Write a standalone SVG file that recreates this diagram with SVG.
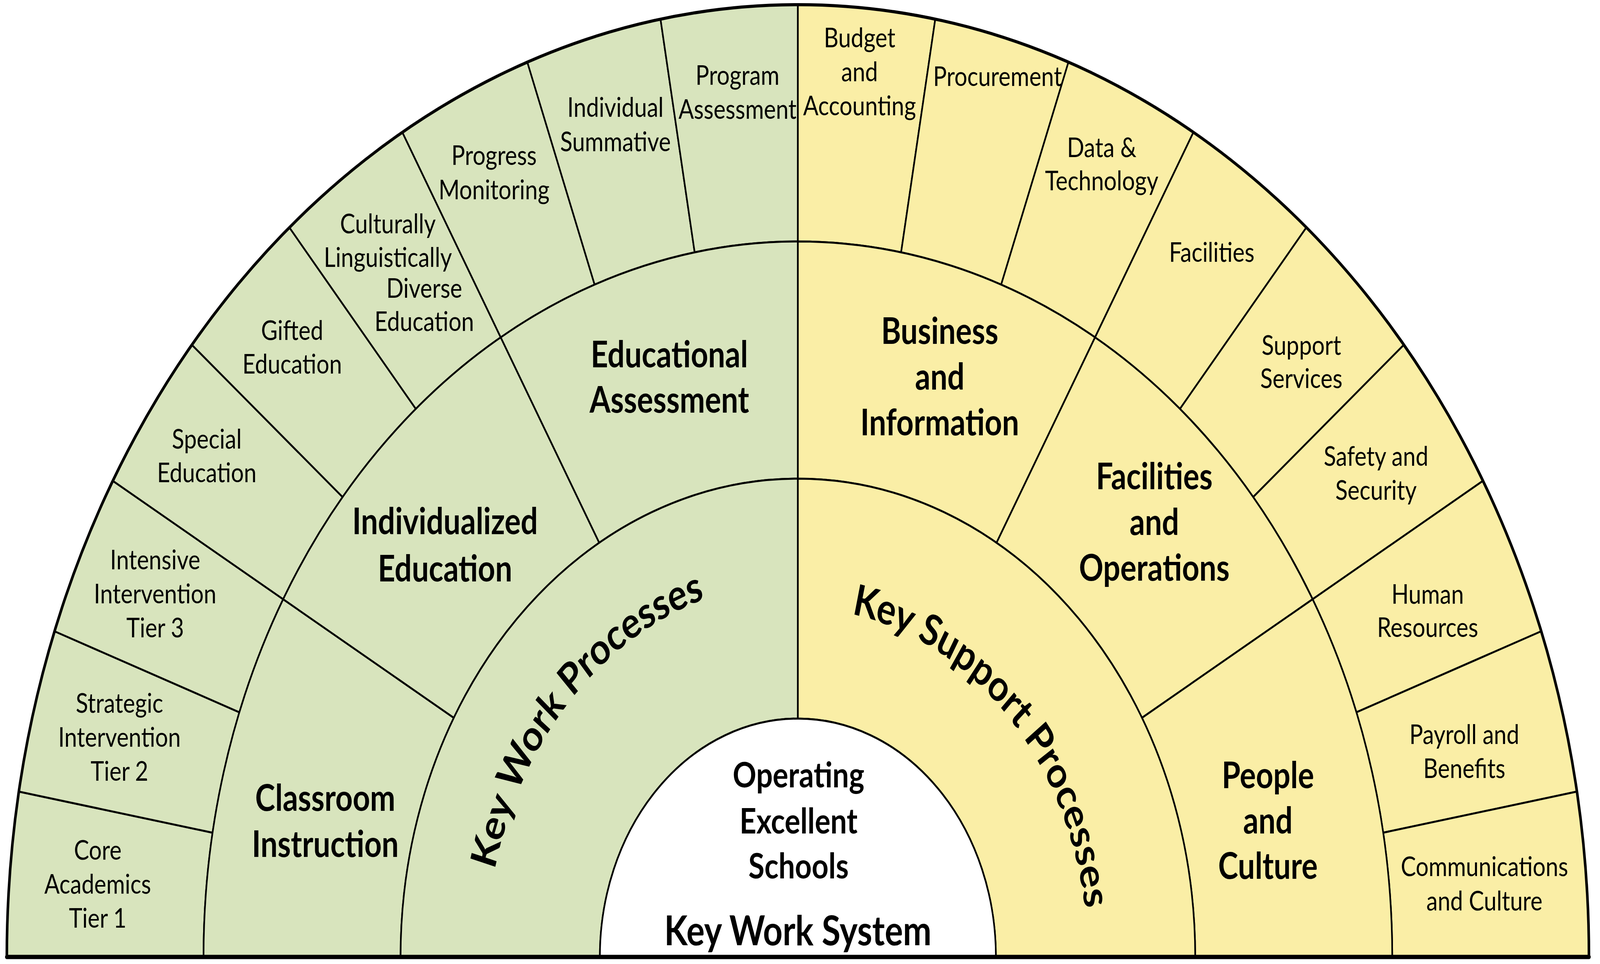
<svg xmlns="http://www.w3.org/2000/svg" width="4929" height="2467" viewBox="0 0 4929 2467" preserveAspectRatio="none" style="width:100vw;height:100vh;display:block">
<style>
.g{fill:#D8E4BD;stroke:#000;stroke-width:5;stroke-linejoin:round}
.y{fill:#FAEEA6;stroke:#000;stroke-width:5;stroke-linejoin:round}
.w{fill:#FFFFFF;stroke:#000;stroke-width:5}
text{font-family:Lato,"Open Sans","Noto Sans",sans-serif;fill:#000;text-anchor:middle}
.s{font-size:70px}
.m{font-size:93px;font-weight:bold}
.c{font-size:90px;font-weight:bold}
.k{font-size:105px;font-weight:bold}
.p{font-size:110px;font-weight:bold}
.frame{fill:none;stroke:#000;stroke-linecap:round}
</style>
<defs>
<path id="arcL" d="M 1602.6 2884.8 A 960 960 0 0 1 2833.1 1565.3"/>
<path id="arcR" d="M 2100.5 1630.7 A 893 893 0 0 1 3257.9 2846.0"/>
</defs>
<rect x="0" y="0" width="4929" height="2467" fill="#FFFFFF"/>

<!-- outer ring, left -->
<g id="core-academics"><path class="g" d="M 21 2449 A 2437 2437 0 0 1 58.0 2025.8 L 654.8 2131.0 A 1831 1831 0 0 0 627 2449 Z"/>
<text class="s" x="301" y="2200">Core</text><text class="s" x="301" y="2287">Academics</text><text class="s" x="301" y="2374">Tier 1</text></g>
<g id="strategic-intervention"><path class="g" d="M 58.0 2025.8 A 2437 2437 0 0 1 168.0 1615.5 L 737.4 1822.8 A 1831 1831 0 0 0 654.8 2131.0 Z"/>
<text class="s" x="368" y="1824">Strategic</text><text class="s" x="368" y="1911">Intervention</text><text class="s" x="368" y="1998">Tier 2</text></g>
<g id="intensive-intervention"><path class="g" d="M 168.0 1615.5 A 2437 2437 0 0 1 347.5 1230.5 L 872.3 1533.5 A 1831 1831 0 0 0 737.4 1822.8 Z"/>
<text class="s" x="478" y="1457">Intensive</text><text class="s" x="478" y="1544">Intervention</text><text class="s" x="478" y="1631">Tier 3</text></g>
<g id="special-education"><path class="g" d="M 347.5 1230.5 A 2437 2437 0 0 1 591.2 882.5 L 1055.4 1272.0 A 1831 1831 0 0 0 872.3 1533.5 Z"/>
<text class="s" x="637" y="1148">Special</text><text class="s" x="637" y="1234">Education</text></g>
<g id="gifted-education"><path class="g" d="M 591.2 882.5 A 2437 2437 0 0 1 891.5 582.2 L 1281.0 1046.4 A 1831 1831 0 0 0 1055.4 1272.0 Z"/>
<text class="s" x="900" y="870">Gifted</text><text class="s" x="900" y="956">Education</text></g>
<g id="cld-education"><path class="g" d="M 891.5 582.2 A 2437 2437 0 0 1 1239.5 338.5 L 1542.5 863.3 A 1831 1831 0 0 0 1281.0 1046.4 Z"/>
<text class="s" x="1195" y="597">Culturally</text><text class="s" x="1195" y="683">Linguistically</text><text class="s" x="1307" y="762">Diverse</text><text class="s" x="1307" y="847">Education</text></g>
<g id="progress-monitoring"><path class="g" d="M 1239.5 338.5 A 2437 2437 0 0 1 1624.5 159.0 L 1831.8 728.4 A 1831 1831 0 0 0 1542.5 863.3 Z"/>
<text class="s" x="1522" y="422">Progress</text><text class="s" x="1522" y="510">Monitoring</text></g>
<g id="individual-summative"><path class="g" d="M 1624.5 159.0 A 2437 2437 0 0 1 2034.8 49.0 L 2140.0 645.8 A 1831 1831 0 0 0 1831.8 728.4 Z"/>
<text class="s" x="1896" y="299">Individual</text><text class="s" x="1896" y="387">Summative</text></g>
<g id="program-assessment"><path class="g" d="M 2034.8 49.0 A 2437 2437 0 0 1 2458 12 L 2458 618 A 1831 1831 0 0 0 2140.0 645.8 Z"/>
<text class="s" x="2272" y="217">Program</text><text class="s" x="2272" y="304">Assessment</text></g>

<!-- outer ring, right -->
<g id="budget-accounting"><path class="y" d="M 2458 12 A 2437 2437 0 0 1 2881.2 49.0 L 2776.0 645.8 A 1831 1831 0 0 0 2458 618 Z"/>
<text class="s" x="2648" y="121">Budget</text><text class="s" x="2648" y="208">and</text><text class="s" x="2648" y="295">Accounting</text></g>
<g id="procurement"><path class="y" d="M 2881.2 49.0 A 2437 2437 0 0 1 3291.5 159.0 L 3084.2 728.4 A 1831 1831 0 0 0 2776.0 645.8 Z"/>
<text class="s" x="3073" y="220">Procurement</text></g>
<g id="data-technology"><path class="y" d="M 3291.5 159.0 A 2437 2437 0 0 1 3676.5 338.5 L 3373.5 863.3 A 1831 1831 0 0 0 3084.2 728.4 Z"/>
<text class="s" x="3394" y="402">Data &amp;</text><text class="s" x="3394" y="487">Technology</text></g>
<g id="facilities"><path class="y" d="M 3676.5 338.5 A 2437 2437 0 0 1 4024.5 582.2 L 3635.0 1046.4 A 1831 1831 0 0 0 3373.5 863.3 Z"/>
<text class="s" x="3733" y="670">Facilities</text></g>
<g id="support-services"><path class="y" d="M 4024.5 582.2 A 2437 2437 0 0 1 4324.8 882.5 L 3860.6 1272.0 A 1831 1831 0 0 0 3635.0 1046.4 Z"/>
<text class="s" x="4009" y="908">Support</text><text class="s" x="4009" y="993">Services</text></g>
<g id="safety-security"><path class="y" d="M 4324.8 882.5 A 2437 2437 0 0 1 4568.5 1230.5 L 4043.7 1533.5 A 1831 1831 0 0 0 3860.6 1272.0 Z"/>
<text class="s" x="4239" y="1192">Safety and</text><text class="s" x="4239" y="1279">Security</text></g>
<g id="human-resources"><path class="y" d="M 4568.5 1230.5 A 2437 2437 0 0 1 4748.0 1615.5 L 4178.6 1822.8 A 1831 1831 0 0 0 4043.7 1533.5 Z"/>
<text class="s" x="4398" y="1545">Human</text><text class="s" x="4398" y="1630">Resources</text></g>
<g id="payroll-benefits"><path class="y" d="M 4748.0 1615.5 A 2437 2437 0 0 1 4858.0 2025.8 L 4261.2 2131.0 A 1831 1831 0 0 0 4178.6 1822.8 Z"/>
<text class="s" x="4511" y="1904">Payroll and</text><text class="s" x="4511" y="1991">Benefits</text></g>
<g id="communications-culture"><path class="y" d="M 4858.0 2025.8 A 2437 2437 0 0 1 4895 2449 L 4289 2449 A 1831 1831 0 0 0 4261.2 2131.0 Z"/>
<text class="s" x="4573" y="2242">Communications</text><text class="s" x="4573" y="2330">and Culture</text></g>

<!-- middle ring -->
<g id="classroom-instruction"><path class="g" d="M 627 2449 A 1831 1831 0 0 1 872.3 1533.5 L 1398.0 1837.0 A 1224 1224 0 0 0 1234 2449 Z"/>
<text class="m" x="1002" y="2075">Classroom</text><text class="m" x="1002" y="2193">Instruction</text></g>
<g id="individualized-education"><path class="g" d="M 872.3 1533.5 A 1831 1831 0 0 1 1542.5 863.3 L 1846.0 1389.0 A 1224 1224 0 0 0 1398.0 1837.0 Z"/>
<text class="m" x="1371" y="1367">Individualized</text><text class="m" x="1371" y="1488">Education</text></g>
<g id="educational-assessment"><path class="g" d="M 1542.5 863.3 A 1831 1831 0 0 1 2458 618 L 2458 1225 A 1224 1224 0 0 0 1846.0 1389.0 Z"/>
<text class="m" x="2062" y="940">Educational</text><text class="m" x="2062" y="1056">Assessment</text></g>
<g id="business-information"><path class="y" d="M 2458 618 A 1831 1831 0 0 1 3373.5 863.3 L 3070.0 1389.0 A 1224 1224 0 0 0 2458 1225 Z"/>
<text class="m" x="2895" y="880">Business</text><text class="m" x="2895" y="997">and</text><text class="m" x="2895" y="1114">Information</text></g>
<g id="facilities-operations"><path class="y" d="M 3373.5 863.3 A 1831 1831 0 0 1 4043.7 1533.5 L 3518.0 1837.0 A 1224 1224 0 0 0 3070.0 1389.0 Z"/>
<text class="m" x="3556" y="1252">Facilities</text><text class="m" x="3556" y="1369">and</text><text class="m" x="3556" y="1486">Operations</text></g>
<g id="people-culture"><path class="y" d="M 4043.7 1533.5 A 1831 1831 0 0 1 4289 2449 L 3682 2449 A 1224 1224 0 0 0 3518.0 1837.0 Z"/>
<text class="m" x="3906" y="2017">People</text><text class="m" x="3906" y="2133">and</text><text class="m" x="3906" y="2249">Culture</text></g>

<!-- inner ring -->
<g id="key-work-processes"><path class="g" d="M 1234 2449 A 1224 1224 0 0 1 2458 1225 L 2458 1839 A 610 610 0 0 0 1848 2449 Z"/>
<text class="p"><textPath href="#arcL" startOffset="50%">Key Work Processes</textPath></text></g>
<g id="key-support-processes"><path class="y" d="M 2458 1225 A 1224 1224 0 0 1 3682 2449 L 3068 2449 A 610 610 0 0 0 2458 1839 Z"/>
<text class="p"><textPath href="#arcR" startOffset="50%">Key Support Processes</textPath></text></g>

<!-- centre -->
<g id="operating-excellent-schools"><path class="w" d="M 1848 2449 A 610 610 0 0 1 3068 2449 Z"/>
<text class="c" x="2460" y="2015">Operating</text><text class="c" x="2460" y="2133">Excellent</text><text class="c" x="2460" y="2248">Schools</text>
<text class="k" x="2458" y="2419">Key Work System</text></g>

<g id="connectors">
<path class="frame" stroke-width="8" d="M 21 2449 A 2437 2437 0 0 1 4895 2449"/>
<line class="frame" stroke-width="11" x1="21" y1="2449" x2="4895" y2="2449"/>
</g>
</svg>
